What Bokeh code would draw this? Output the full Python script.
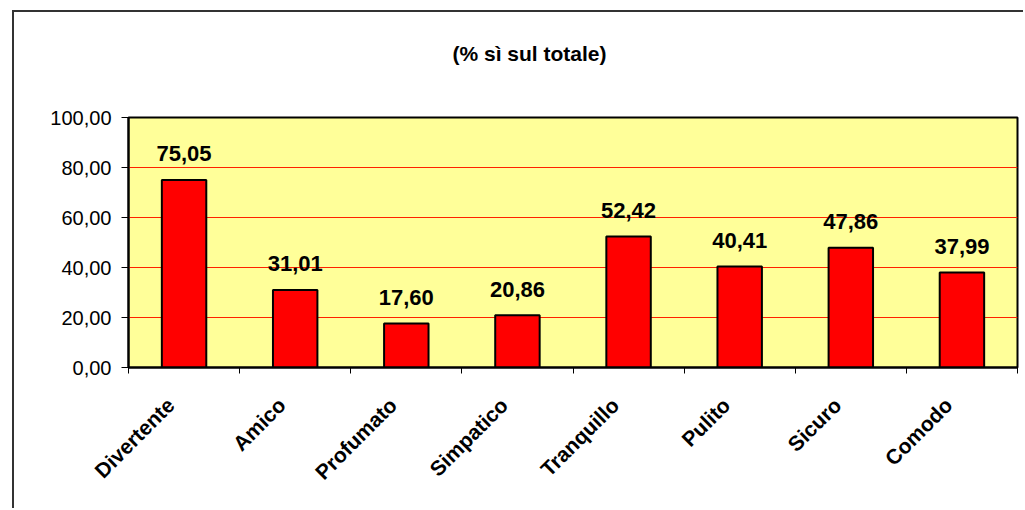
import math
from bokeh.plotting import figure
from bokeh.models import Range1d, FixedTicker, ColumnDataSource, Title
from bokeh.core.properties import value
from bokeh.embed import file_html
from bokeh.resources import INLINE

# ---- data ----
categories = ["Divertente", "Amico", "Profumato", "Simpatico",
              "Tranquillo", "Pulito", "Sicuro", "Comodo"]
values = [75.05, 31.01, 17.60, 20.86, 52.42, 40.41, 47.86, 37.99]
y_ticks = [0, 20, 40, 60, 80, 100]
y_tick_labels = ["0,00", "20,00", "40,00", "60,00", "80,00", "100,00"]
title_text = "(% sì sul totale)"

FONT = "Liberation Sans"

xs = [i + 0.5 for i in range(len(categories))]
bounds = list(range(len(categories) + 1))
label_pos = [x - 0.12 for x in xs]   # rotated labels end slightly left of centre
value_labels = [f"{v:.2f}".replace(".", ",") for v in values]

src = ColumnDataSource(dict(x=xs, top=values, lab=value_labels))

p = figure(width=1011, height=498, output_backend="svg", toolbar_location=None,
           title=None,
           x_range=Range1d(0, len(categories)), y_range=Range1d(0, 100),
           min_border_left=114, min_border_right=8, min_border_top=104,
           min_border_bottom=143)
p.styles = {"margin-left": "12px", "margin-top": "10px",
            "border-left": "2px solid #333333", "border-top": "2px solid #333333"}

p.background_fill_color = "#FFFF99"
p.border_fill_color = "white"
p.outline_line_color = "black"
p.outline_line_width = 2

# spacer (nearest to the frame) + real title further out
spacer = Title(text=" ", standoff=4, text_font=FONT, text_font_size="18px")
p.add_layout(spacer, "above")
title = Title(text=title_text, align="left", offset=324, standoff=54,
              text_font=FONT, text_font_size="21px", text_font_style="bold",
              text_color="black")
p.add_layout(title, "above")

# bars
p.vbar(x="x", top="top", width=0.4, source=src, fill_color="#FF0000",
       line_color="black", line_width=2)

# value labels
p.text(x="x", y="top", text="lab", source=src, y_offset=-26,
       text_align="center", text_baseline="alphabetic",
       text_font=value(FONT), text_font_size="22px", text_font_style="bold",
       text_color="black")

# y axis
p.yaxis.ticker = FixedTicker(ticks=y_ticks)
p.yaxis.major_label_overrides = {t: l for t, l in zip(y_ticks, y_tick_labels)}
p.yaxis.major_label_text_font = FONT
p.yaxis.major_label_text_font_size = "20px"
p.yaxis.major_label_text_color = "black"
p.yaxis.major_tick_out = 7
p.yaxis.major_tick_in = 0
p.yaxis.minor_tick_out = 0
p.yaxis.minor_tick_in = 0
p.yaxis.major_label_standoff = 10
p.yaxis.axis_line_color = "black"
p.yaxis.axis_line_width = 2
p.yaxis.major_tick_line_color = "black"

# x axis
p.xaxis.ticker = FixedTicker(ticks=label_pos, minor_ticks=bounds)
p.xaxis.major_label_overrides = {x: c for x, c in zip(label_pos, categories)}
p.xaxis.major_label_orientation = math.pi / 4
p.xaxis.major_label_text_font = FONT
p.xaxis.major_label_text_font_size = "21px"
p.xaxis.major_label_text_font_style = "bold"
p.xaxis.major_label_text_color = "black"
p.xaxis.major_tick_out = 0
p.xaxis.major_tick_in = 0
p.xaxis.minor_tick_out = 6
p.xaxis.minor_tick_in = 0
p.xaxis.minor_tick_line_color = "black"
p.xaxis.major_label_standoff = 28
p.xaxis.axis_line_color = "black"
p.xaxis.axis_line_width = 2

# grid
p.xgrid.grid_line_color = None
p.ygrid.ticker = FixedTicker(ticks=[20, 40, 60, 80])
p.ygrid.grid_line_color = "#FF2000"
p.ygrid.grid_line_width = 1

open("out.html", "w").write(file_html(p, INLINE))
